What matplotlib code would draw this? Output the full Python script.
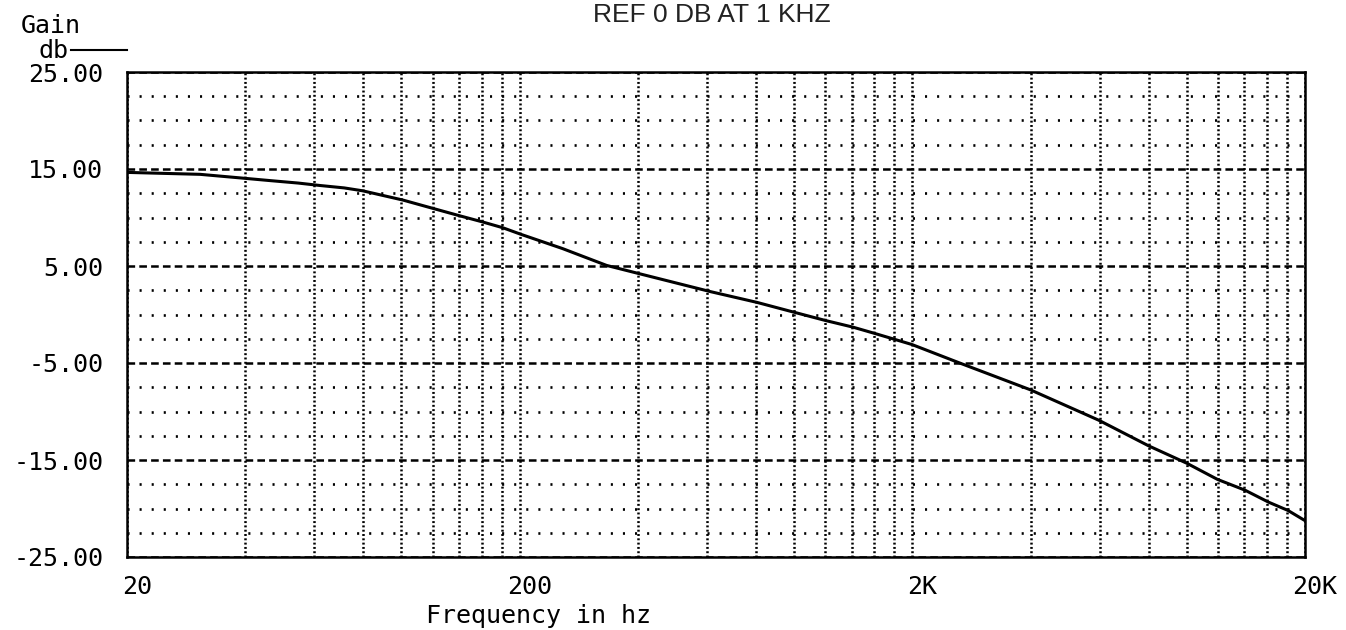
import matplotlib
matplotlib.use("Agg")
import matplotlib.pyplot as plt
import matplotlib.transforms as mtransforms
from matplotlib.lines import Line2D
import numpy as np

plt.rcParams['lines.scale_dashes'] = False

# ---- data ----
freq_hz = [20, 30.7, 38.4, 46.4, 54.6, 62, 71.5, 79.7, 100.8, 120, 140, 160, 181, 202,
           257, 333, 404, 612, 804, 992, 1202, 1411, 1604, 1806, 1997, 2640, 3989,
           5969, 8004, 10020, 11970, 14050, 16160, 18100, 20000]
gain_db = [14.65, 14.45, 14.1, 13.8, 13.55, 13.3, 13.05, 12.75, 11.8, 10.95, 10.2, 9.57,
           8.95, 8.25, 6.8, 5.06, 4.2, 2.36, 1.25, 0.27, -0.62, -1.3, -1.95, -2.57, -3.1,
           -5.0, -7.75, -10.9, -13.55, -15.35, -17.0, -18.1, -19.35, -20.2, -21.25]

x_major = [20, 200, 2000, 20000]
x_major_labels = ["20", "200", "2K", "20K"]
x_minor = [40, 60, 80, 100, 120, 140, 160, 180,
           400, 600, 800, 1000, 1200, 1400, 1600, 1800,
           4000, 6000, 8000, 10000, 12000, 14000, 16000, 18000]
y_major = [-25, -15, -5, 5, 15, 25]
y_major_labels = ["-25.00", "-15.00", "-5.00", "5.00", "15.00", "25.00"]
y_minor = [-22.5, -20, -17.5, -12.5, -10, -7.5, -2.5, 0, 2.5, 7.5, 10, 12.5, 17.5, 20, 22.5]

title_text = "REF 0 DB AT 1 KHZ"
xlabel_text = "Frequency in hz"
ylabel_top = "Gain"
ylabel_unit = "db"

W, H = 1346, 630
fig = plt.figure(figsize=(W / 100, H / 100), dpi=100)
fig.patch.set_facecolor("white")
ax = fig.add_axes([127 / W, 1 - 557 / H, (1305 - 127) / W, (557 - 72) / H])

ax.set_xscale("log")
ax.set_xlim(20, 20000)
ax.set_ylim(-25, 25)

ax.set_xticks(x_major)
ax.set_xticklabels(x_major_labels)
ax.set_xticks(x_minor, minor=True)
ax.xaxis.set_minor_formatter(matplotlib.ticker.NullFormatter())
ax.set_yticks(y_major)
ax.set_yticklabels(y_major_labels)
ax.set_yticks(y_minor, minor=True)

mono = "DejaVu Sans Mono"
fs = 18
ax.tick_params(which="both", length=0)
ax.tick_params(axis="x", which="major", pad=13, labelsize=fs, labelcolor="black")
ax.tick_params(axis="y", which="major", pad=17, labelsize=fs, labelcolor="black")
for lab in ax.get_xticklabels() + ax.get_yticklabels():
    lab.set_fontfamily(mono)

offset = mtransforms.ScaledTranslation(10 / 100, 0, fig.dpi_scale_trans)
for lab in ax.get_xticklabels():
    lab.set_transform(lab.get_transform() + offset)

# grid
ax.yaxis.grid(True, which="major", color="black", linewidth=1.8, linestyle=(0, (5.5, 3.0)))
ax.yaxis.grid(True, which="minor", color="black", linewidth=1.9, linestyle=(0, (1.5, 7.2)))
ax.xaxis.grid(True, which="both", color="black", linewidth=1.8, linestyle=(0, (1.4, 1.7)))
ax.set_axisbelow(True)

ax.plot(freq_hz, gain_db, color="black", linewidth=2.2, solid_joinstyle="round", zorder=5)

for s in ax.spines.values():
    s.set_linewidth(1.8)
    s.set_color("black")
    s.set_zorder(6)

# texts
fig.text(712 / W, 1 - 22 / H, title_text, ha="center", va="baseline",
         fontsize=19, family="Liberation Sans", color="#222222")
fig.text(21 / W, 1 - 33 / H, ylabel_top, ha="left", va="baseline", fontsize=fs, family=mono)
fig.text(38 / W, 1 - 58 / H, ylabel_unit, ha="left", va="baseline", fontsize=fs, family=mono)
fig.add_artist(Line2D([71 / W, 127 / W], [1 - 50 / H, 1 - 50 / H], color="black",
                      linewidth=1.5, transform=fig.transFigure))
fig.text(426 / W, 1 - 623 / H, xlabel_text, ha="left", va="baseline", fontsize=fs, family=mono)

fig.savefig("out.png", dpi=100, facecolor="white")
